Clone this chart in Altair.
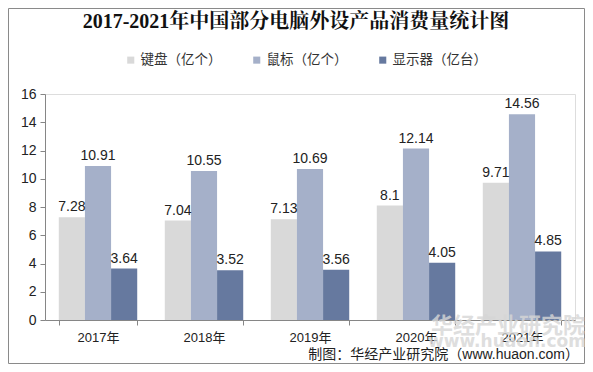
import altair as alt
import pandas as pd

years = ["2017年", "2018年", "2019年", "2020年", "2021年"]
series = ["键盘（亿个）", "鼠标（亿个）", "显示器（亿台）"]
keyboard = [7.28, 7.04, 7.13, 8.1, 9.71]
mouse = [10.91, 10.55, 10.69, 12.14, 14.56]
monitor = [3.64, 3.52, 3.56, 4.05, 4.85]
y_ticks = [0, 2, 4, 6, 8, 10, 12, 14, 16]
colors = ["#d9d9d9", "#a5b0c9", "#66799f"]
title_text = "2017-2021年中国部分电脑外设产品消费量统计图"
source_text = "制图：华经产业研究院（www.huaon.com）"
watermark_texts = ["华经产业研究院", "www.huaon.com"]

rows = []
for i, y in enumerate(years):
    for s, vals in zip(series, [keyboard, mouse, monitor]):
        rows.append({"year": y, "series": s, "value": vals[i], "label": str(vals[i])})
df = pd.DataFrame(rows)

SANS = "Liberation Sans, Noto Sans CJK SC"
W, H = 530, 226

x = alt.X("year:N", sort=years, title=None,
          scale=alt.Scale(paddingInner=0.26, paddingOuter=0.13),
          axis=alt.Axis(labelAngle=0, tickBand="extent", labelFontSize=13,
                        labelFont=SANS, labelColor="#222", labelPadding=6,
                        domainColor="#868686", tickColor="#868686", tickSize=5))
y = alt.Y("value:Q", title=None,
          scale=alt.Scale(domain=[0, 16], nice=False),
          axis=alt.Axis(values=y_ticks, grid=False, labelFontSize=14,
                        labelFont=SANS, labelColor="#222", labelPadding=4,
                        labelOverlap=False, labelBound=False,
                        domainColor="#868686", tickColor="#868686", tickSize=5))
xo = alt.XOffset("series:N", sort=series)
color = alt.Color("series:N", sort=series,
                  scale=alt.Scale(domain=series, range=colors),
                  legend=alt.Legend(title=None, orient="none", direction="horizontal",
                                    legendX=79, legendY=-41, symbolType="square",
                                    symbolSize=50, symbolStrokeWidth=0,
                                    labelFontSize=13.5, labelFont=SANS,
                                    labelColor="#333", columnPadding=28,
                                    labelOffset=3, labelLimit=200))

bars = alt.Chart(df).mark_bar().encode(x=x, y=y, xOffset=xo, color=color)
labels = alt.Chart(df).mark_text(dy=-10, fontSize=14, font=SANS, color="#222").encode(
    x=x, y=y, xOffset=xo, text="label:N")

one = pd.DataFrame({"t": [title_text]})
title = alt.Chart(one).mark_text(fontSize=20, fontWeight="bold",
                                 font="Liberation Serif, Noto Serif CJK SC, Noto Sans CJK SC",
                                 color="#111", align="center", baseline="middle").encode(
    x=alt.value(251), y=alt.value(-72), text="t:N")

src = pd.DataFrame({"t": [source_text]})
source = alt.Chart(src).mark_text(fontSize=14, font=SANS, color="#222",
                                  align="right", baseline="middle").encode(
    x=alt.value(534), y=alt.value(261), text="t:N")

wm1 = alt.Chart(pd.DataFrame({"t": [watermark_texts[0]]})).mark_text(
    fontSize=22, font="Noto Sans CJK SC", fontWeight="bold", color="#d6d6d6",
    opacity=0.8, align="center", baseline="middle").encode(
    x=alt.value(463), y=alt.value(232), text="t:N")
wm2 = alt.Chart(pd.DataFrame({"t": [watermark_texts[1]]})).mark_text(
    fontSize=17, font="DejaVu Sans", fontWeight="bold", color="#d6d6d6",
    opacity=0.8, align="center", baseline="middle").encode(
    x=alt.value(462), y=alt.value(248), text="t:N")

frame = alt.Chart(one).mark_rect(fill=None, stroke="#8a8a8a", strokeWidth=1).encode(
    x=alt.value(-36.5), x2=alt.value(539.5), y=alt.value(-85.5), y2=alt.value(269.5))

chart = alt.layer(frame, bars, wm1, wm2, labels, title, source).properties(
    width=W, height=H,
    autosize=alt.AutoSizeParams(type="none"),
    padding={"left": 37, "top": 86, "right": 10, "bottom": 44},
).configure_view(stroke=None).configure_axisY(labelOverlap=False).configure(background="white")

chart.save("out.html", embed_options={"renderer": "svg", "actions": False})
